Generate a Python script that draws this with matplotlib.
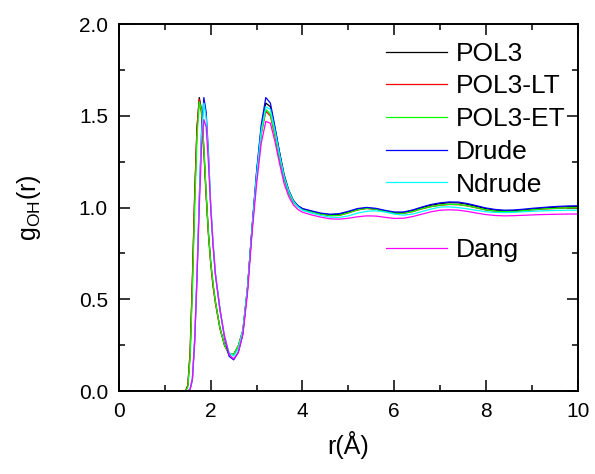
"""Radial distribution g_OH(r) for the polarizable water models."""

from __future__ import annotations

import matplotlib

matplotlib.use("Agg")
import matplotlib.pyplot as plt
from matplotlib.lines import Line2D
from matplotlib.ticker import MultipleLocator

plt.rcParams["font.family"] = ["Liberation Sans", "DejaVu Sans"]
plt.rcParams["mathtext.fontset"] = "custom"
plt.rcParams["mathtext.rm"] = "Liberation Sans"

R = [
    0.0, 1.4, 1.45, 1.5, 1.55, 1.6, 1.65, 1.7, 1.75, 1.8, 1.85, 1.9, 1.95, 2.0, 2.05, 2.1,
    2.2, 2.3, 2.4, 2.5, 2.6, 2.7, 2.8, 2.9, 3.0, 3.1, 3.2, 3.3, 3.4, 3.5, 3.6, 3.7, 3.8, 3.9, 4.0,
    4.2, 4.4, 4.6, 4.8, 5.0, 5.2, 5.4, 5.6, 5.8, 6.0, 6.2, 6.4, 6.6, 6.8, 7.0,
    7.2, 7.4, 7.6, 7.8, 8.0, 8.2, 8.4, 8.6, 8.8, 9.0, 9.2, 9.4, 9.6, 9.8, 10.0,
]

G_POL3 = [
    0.0, 0.0, 0.0, 0.03, 0.20, 0.60, 1.06, 1.43, 1.60, 1.53, 1.32, 1.07, 0.86, 0.70, 0.58, 0.49,
    0.345, 0.25, 0.20, 0.20, 0.245, 0.33, 0.56, 0.89, 1.19, 1.43, 1.57, 1.55, 1.43, 1.30, 1.18, 1.095, 1.04, 1.01, 0.993,
    0.979, 0.967, 0.961, 0.963, 0.976, 0.991, 0.998, 0.993, 0.982, 0.973, 0.973, 0.984, 1.0, 1.013, 1.022,
    1.027, 1.026, 1.018, 1.006, 0.994, 0.986, 0.982, 0.983, 0.987, 0.992, 0.996, 1.0, 1.003, 1.005, 1.006,
]
G_POL3_LT = [
    0.0, 0.0, 0.0, 0.03, 0.22, 0.62, 1.08, 1.44, 1.59, 1.51, 1.30, 1.06, 0.85, 0.69, 0.57, 0.48,
    0.34, 0.25, 0.20, 0.20, 0.245, 0.33, 0.56, 0.88, 1.17, 1.40, 1.525, 1.50, 1.39, 1.265, 1.155, 1.08, 1.03, 1.005, 0.99,
    0.976, 0.964, 0.956, 0.957, 0.971, 0.987, 0.995, 0.99, 0.979, 0.969, 0.968, 0.978, 0.993, 1.005, 1.013,
    1.017, 1.016, 1.009, 0.998, 0.987, 0.98, 0.977, 0.978, 0.982, 0.987, 0.991, 0.994, 0.996, 0.998, 0.998,
]
G_POL3_ET = [
    0.0, 0.0, 0.0, 0.02, 0.18, 0.55, 1.0, 1.38, 1.577, 1.53, 1.33, 1.08, 0.86, 0.70, 0.59, 0.49,
    0.345, 0.25, 0.20, 0.20, 0.245, 0.33, 0.56, 0.88, 1.17, 1.40, 1.535, 1.51, 1.40, 1.27, 1.16, 1.08, 1.03, 1.005, 0.99,
    0.977, 0.965, 0.957, 0.958, 0.972, 0.988, 0.996, 0.991, 0.98, 0.97, 0.969, 0.979, 0.994, 1.006, 1.014,
    1.018, 1.017, 1.01, 0.999, 0.988, 0.981, 0.978, 0.979, 0.983, 0.988, 0.992, 0.995, 0.997, 0.999, 0.999,
]
G_DRUDE = [
    0.0, 0.0, 0.0, 0.0, 0.01, 0.06, 0.27, 0.62, 1.05, 1.42, 1.60, 1.52, 1.30, 1.0, 0.80, 0.64,
    0.45, 0.29, 0.19, 0.17, 0.21, 0.31, 0.55, 0.89, 1.20, 1.45, 1.60, 1.57, 1.44, 1.30, 1.17, 1.09, 1.035, 1.01, 0.995,
    0.982, 0.97, 0.964, 0.967, 0.98, 0.995, 1.001, 0.996, 0.985, 0.976, 0.976, 0.987, 1.003, 1.017, 1.026,
    1.031, 1.03, 1.022, 1.01, 0.998, 0.99, 0.986, 0.987, 0.991, 0.996, 1.0, 1.004, 1.007, 1.009, 1.01,
]
G_NDRUDE = [
    0.0, 0.0, 0.0, 0.0, 0.01, 0.07, 0.29, 0.64, 1.05, 1.40, 1.57, 1.49, 1.28, 1.02, 0.82, 0.65,
    0.44, 0.30, 0.21, 0.19, 0.23, 0.33, 0.56, 0.89, 1.18, 1.42, 1.55, 1.535, 1.42, 1.29, 1.17, 1.09, 1.035, 1.005, 0.985,
    0.97, 0.957, 0.948, 0.946, 0.955, 0.97, 0.98, 0.983, 0.976, 0.965, 0.959, 0.965, 0.978, 0.992, 1.003,
    1.004, 1.0, 0.993, 0.985, 0.978, 0.974, 0.973, 0.974, 0.977, 0.98, 0.982, 0.984, 0.985, 0.986, 0.986,
]
G_DANG = [
    0.0, 0.0, 0.0, 0.0, 0.01, 0.07, 0.28, 0.62, 1.0, 1.33, 1.48, 1.44, 1.24, 1.0, 0.80, 0.64,
    0.44, 0.30, 0.20, 0.175, 0.21, 0.31, 0.53, 0.86, 1.13, 1.35, 1.47, 1.46, 1.36, 1.24, 1.13, 1.06, 1.015, 0.99, 0.975,
    0.96, 0.948, 0.939, 0.937, 0.942, 0.95, 0.955, 0.954, 0.947, 0.941, 0.942, 0.951, 0.964, 0.977, 0.986,
    0.988, 0.986, 0.979, 0.97, 0.962, 0.957, 0.955, 0.956, 0.958, 0.96, 0.962, 0.963, 0.964, 0.965, 0.965,
]

MODELS = ["POL3", "POL3-LT", "POL3-ET", "Drude", "Ndrude", "Dang"]
COLORS = ["#000000", "#FF0000", "#00FF00", "#0000FF", "#00FFFF", "#FF00FF"]


def _style_axis(axis: plt.Axes) -> None:
    for spine in axis.spines.values():
        spine.set_linewidth(1.4)
    axis.xaxis.set_major_locator(MultipleLocator(2))
    axis.xaxis.set_minor_locator(MultipleLocator(1))
    axis.yaxis.set_major_locator(MultipleLocator(0.5))
    axis.yaxis.set_minor_locator(MultipleLocator(0.25))
    axis.tick_params(which="both", direction="in", top=True, right=True, width=1.1, labelsize=15, pad=8)
    axis.tick_params(which="major", length=8)
    axis.tick_params(which="minor", length=4.5)
    axis.yaxis.set_major_formatter(lambda v, _: f"{v:.1f}")


def main() -> None:
    figure = plt.figure(figsize=(5.95, 4.74), dpi=100)
    axis = figure.add_axes((0.2, 0.175, 0.771, 0.774))

    series = [G_POL3, G_POL3_LT, G_POL3_ET, G_DRUDE, G_NDRUDE, G_DANG]
    handles = []
    labels = []
    for name, color, values in zip(MODELS, COLORS, series, strict=True):
        (line,) = axis.plot(R, values, color=color, linewidth=0.9)
        if name == "Dang":
            # blank row in the legend before Dang
            handles.append(Line2D([], [], linestyle="none"))
            labels.append(" ")
        handles.append(line)
        labels.append(name)

    axis.set_xlim(0, 10)
    axis.set_ylim(0, 2.0)
    axis.set_xlabel("r(Å)", fontsize=18, labelpad=7)
    axis.set_ylabel(r"g$_{\mathregular{OH}}$(r)", fontsize=18, labelpad=26)
    _style_axis(axis)

    axis.legend(
        handles,
        labels,
        loc="upper left",
        bbox_to_anchor=(0.582, 0.952),
        frameon=False,
        fontsize=19,
        handlelength=2.3,
        handletextpad=0.35,
        labelspacing=0.33,
        borderpad=0.0,
        borderaxespad=0.0,
    )

    figure.savefig("out.png", dpi=100)
    plt.close(figure)


if __name__ == "__main__":
    main()
